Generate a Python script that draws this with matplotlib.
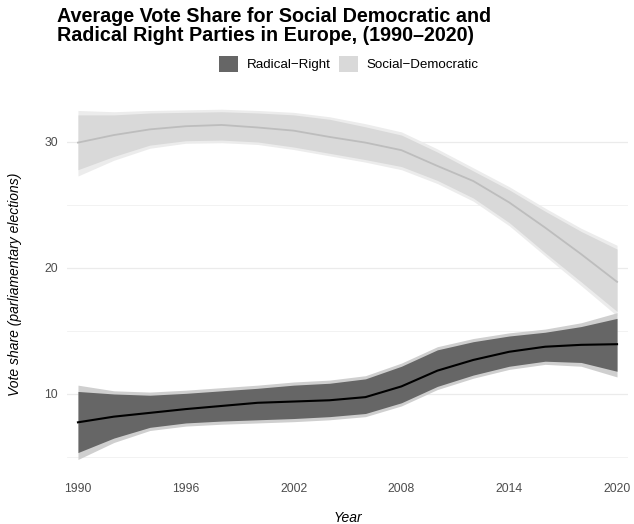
import matplotlib
matplotlib.use("Agg")
import matplotlib.pyplot as plt
from matplotlib.patches import Patch

plt.rcParams["font.family"] = ["Liberation Sans", "DejaVu Sans"]

years = [1990, 1992, 1994, 1996, 1998, 2000, 2002, 2004,
         2006, 2008, 2010, 2012, 2014, 2016, 2018, 2020]

# Radical-right parties: smoothed mean with two confidence bands
rr_mean = [7.75, 8.2, 8.5, 8.8, 9.05, 9.3, 9.4, 9.5,
           9.75, 10.6, 11.85, 12.7, 13.35, 13.75, 13.9, 13.95]
rr_hi = [10.2, 10.0, 9.9, 10.05, 10.25, 10.45, 10.7, 10.85,
         11.2, 12.2, 13.5, 14.15, 14.6, 14.9, 15.35, 16.0]
rr_lo = [5.35, 6.5, 7.35, 7.7, 7.85, 7.95, 8.05, 8.2,
         8.45, 9.3, 10.6, 11.5, 12.2, 12.6, 12.5, 11.8]
rr_hi_wide = [10.7, 10.25, 10.15, 10.3, 10.5, 10.7, 10.95, 11.1,
              11.45, 12.45, 13.75, 14.4, 14.85, 15.15, 15.65, 16.45]
rr_lo_wide = [4.8, 6.15, 7.1, 7.45, 7.6, 7.7, 7.8, 7.95,
              8.2, 9.05, 10.35, 11.25, 11.95, 12.35, 12.2, 11.35]

# Social-democratic parties
sd_mean = [29.95, 30.55, 31.0, 31.25, 31.35, 31.15, 30.9, 30.4,
           29.95, 29.35, 28.1, 26.9, 25.2, 23.2, 21.1, 18.9]
sd_hi = [32.15, 32.15, 32.3, 32.35, 32.4, 32.3, 32.15, 31.8,
         31.2, 30.55, 29.2, 27.7, 26.2, 24.5, 22.9, 21.5]
sd_lo = [27.8, 28.85, 29.75, 30.1, 30.15, 30.0, 29.6, 29.1,
         28.6, 28.05, 26.95, 25.55, 23.6, 21.2, 18.9, 16.55]
sd_hi_wide = [32.5, 32.4, 32.5, 32.55, 32.6, 32.5, 32.35, 32.0,
              31.45, 30.8, 29.45, 27.95, 26.45, 24.75, 23.15, 21.8]
sd_lo_wide = [27.3, 28.55, 29.5, 29.9, 29.95, 29.8, 29.4, 28.9,
              28.4, 27.8, 26.7, 25.3, 23.35, 20.95, 18.6, 16.2]

x_ticks = [1990, 1996, 2002, 2008, 2014, 2020]
y_major = [10, 20, 30]
y_minor = [5, 15, 25]
series_names = ["Radical\u2212Right", "Social\u2212Democratic"]

W, H = 634, 524
fig = plt.figure(figsize=(W / 100, H / 100), dpi=100)
left, right, top, bottom = 67, 628, 91.7, 477
ax = fig.add_axes([left / W, 1 - bottom / H, (right - left) / W, (bottom - top) / H])

for s in ax.spines.values():
    s.set_visible(False)

ax.set_xlim(1989.39, 2020.61)
ax.set_ylim(3.41, 33.99)

for v in y_minor:
    ax.axhline(v, color="#f0f0f0", lw=0.6, zorder=0)
for v in y_major:
    ax.axhline(v, color="#ebebeb", lw=0.9, zorder=0)

# Social-democratic band and line
ax.fill_between(years, sd_lo_wide, sd_hi_wide, color="#ececec", lw=0, zorder=1)
ax.fill_between(years, sd_lo, sd_hi, color="#d9d9d9", lw=0, zorder=2)
ax.plot(years, sd_mean, color="#bdbdbd", lw=1.3, zorder=3)

# Radical-right band and line
ax.fill_between(years, rr_lo_wide, rr_hi_wide, color="#cfcfcf", lw=0, zorder=4)
ax.fill_between(years, rr_lo, rr_hi, color="#666666", lw=0, zorder=5)
ax.plot(years, rr_mean, color="black", lw=1.5, zorder=6)

ax.set_xticks(x_ticks)
ax.set_xticklabels([str(v) for v in x_ticks])
ax.set_yticks(y_major)
ax.tick_params(axis="both", length=0, labelsize=8.8, colors="#4d4d4d")
ax.tick_params(axis="y", pad=6.5)
ax.tick_params(axis="x", pad=4.3)

fig.text(15 / W, 1 - 284 / H, "Vote share (parliamentary elections)",
         rotation=90, ha="center", va="center", fontsize=10, style="italic")
fig.text(348 / W, 1 - 518 / H, "Year", ha="center", va="center",
         fontsize=10, style="italic")

fig.text(57 / W, 1 - 7 / H,
         "Average Vote Share for Social Democratic and\nRadical Right Parties in Europe, (1990\u20132020)",
         ha="left", va="top", fontsize=14.2, fontweight="bold", linespacing=1.02)

handles = [Patch(facecolor="#666666", edgecolor="none", label=series_names[0]),
           Patch(facecolor="#d9d9d9", edgecolor="none", label=series_names[1])]
fig.legend(handles=handles, loc="center", bbox_to_anchor=(349 / W, 1 - 64 / H),
           ncol=2, frameon=False, fontsize=9.6, handlelength=1.39, handleheight=1.39,
           handletextpad=0.68, columnspacing=0.64, borderpad=0)

fig.savefig("out.png", dpi=100, facecolor="white")
